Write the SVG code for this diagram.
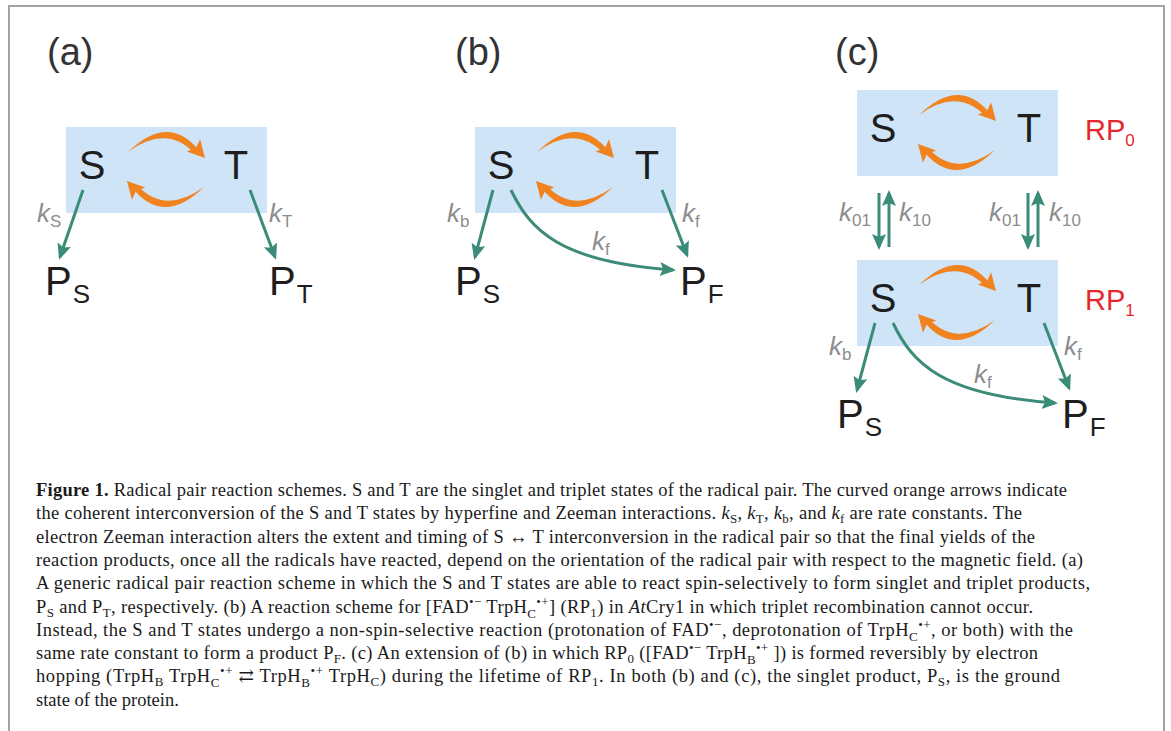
<svg xmlns="http://www.w3.org/2000/svg" width="1171" height="731" viewBox="0 0 1171 731">
<style>
.frame{fill:#fff;stroke:#a3a3a3;stroke-width:2}
.plbl{font-family:"Liberation Sans",Arial,sans-serif;font-size:38px;fill:#333}
.box{fill:#cfe5f7}
.st{font-family:"Liberation Sans",Arial,sans-serif;font-size:40px;fill:#1e1e1e;text-anchor:middle}
.p{font-family:"Liberation Sans",Arial,sans-serif;font-size:40px;fill:#1e1e1e}
.psub{font-size:26px}
.k{font-family:"Liberation Sans",Arial,sans-serif;font-size:26px;font-style:italic;fill:#8d8d8d}
.ksub{font-size:17px;font-style:normal}
.rp{font-family:"Liberation Sans",Arial,sans-serif;font-size:29px;fill:#e5282d}
.rpsub{font-size:17px}
.orn{fill:#f0831f}
.grn{fill:none;stroke:#3b8b79;stroke-width:3;marker-end:url(#ga)}
.cap{font-family:"Liberation Serif","Times New Roman","DejaVu Serif",serif;font-size:18.5px;fill:#1a1a1a}
.sb{font-size:13px}
.sp{font-size:13px}
.it{font-style:italic}
</style>
<defs>
<marker id="ga" markerUnits="userSpaceOnUse" markerWidth="18" markerHeight="16" refX="13" refY="7" orient="auto">
<path d="M0,0 L16,7 L0,14 L3,7 z" fill="#3b8b79"/>
</marker>
<g id="orn-arc">
<path class="orn" d="M62,25 Q101,-13 131,21 L128.5,26.5 Q101,-3 62,25 Z"/>
<path class="orn" d="M139,31 L120.7,24.5 L130,21 L134.1,12.3 Z"/>
</g>
<g id="orn-pair">
<use href="#orn-arc"/>
<use href="#orn-arc" transform="rotate(180 100 42.5)"/>
</g>
</defs>
<rect class="frame" x="9" y="6" width="1155" height="760"/>

<!-- panel labels -->
<g id="label-a"><text class="plbl" x="47" y="65">(a)</text></g>
<g id="label-b"><text class="plbl" x="455" y="65">(b)</text></g>
<g id="label-c"><text class="plbl" x="835" y="65">(c)</text></g>

<!-- Panel (a) -->
<g id="box-a" transform="translate(66,127)">
<rect class="box" x="0" y="0" width="201" height="86"/>
<g id="a-S"><text class="st" x="26" y="52">S</text></g>
<g id="a-T"><text class="st" x="170" y="52">T</text></g>
</g>
<g id="a-PS"><text class="p" x="45" y="295">P<tspan class="psub" dx="1" dy="8">S</tspan></text></g>
<g id="a-PT"><text class="p" x="269" y="295">P<tspan class="psub" dx="1" dy="8">T</tspan></text></g>

<!-- Panel (b) -->
<g id="box-b" transform="translate(475,127)">
<rect class="box" x="0" y="0" width="201" height="86"/>
<g id="b-S"><text class="st" x="26" y="52">S</text></g>
<g id="b-T"><text class="st" x="172" y="52">T</text></g>
</g>
<g id="b-PS"><text class="p" x="455" y="295">P<tspan class="psub" dx="1" dy="8">S</tspan></text></g>
<g id="b-PF"><text class="p" x="680" y="295">P<tspan class="psub" dx="1" dy="8">F</tspan></text></g>

<!-- Panel (c) -->
<g id="box-c0" transform="translate(857,90)">
<rect class="box" x="0" y="0" width="201" height="86"/>
<g id="c0-S"><text class="st" x="26" y="52">S</text></g>
<g id="c0-T"><text class="st" x="172" y="52">T</text></g>
</g>
<g id="rp0"><text class="rp" x="1085" y="140">RP<tspan class="rpsub" dy="6">0</tspan></text></g>
<g id="box-c1" transform="translate(857,260)">
<rect class="box" x="0" y="0" width="201" height="86"/>
<g id="c1-S"><text class="st" x="26" y="52">S</text></g>
<g id="c1-T"><text class="st" x="172" y="52">T</text></g>
</g>
<g id="rp1"><text class="rp" x="1085" y="310">RP<tspan class="rpsub" dy="6">1</tspan></text></g>
<g id="c-PS"><text class="p" x="837" y="428">P<tspan class="psub" dx="1" dy="8">S</tspan></text></g>
<g id="c-PF"><text class="p" x="1062" y="428">P<tspan class="psub" dx="1" dy="8">F</tspan></text></g>

<!-- Connectors -->
<g id="connectors">
<g transform="translate(66,127)">
<use href="#orn-pair"/>
<path class="grn" d="M17,63 L-6,130"/>
<path class="grn" d="M184,63 L209,130"/>
</g>
<g transform="translate(475,127)">
<use href="#orn-pair"/>
<path class="grn" d="M18,63 L0,130"/>
<path class="grn" d="M36,63 C55,103 85,135 198,143"/>
<path class="grn" d="M187,63 L212,128"/>
</g>
<g transform="translate(857,90)">
<use href="#orn-pair"/>
<path class="grn" d="M22,103 L22,157"/>
<path class="grn" d="M32,157 L32,103"/>
<path class="grn" d="M171,103 L171,157"/>
<path class="grn" d="M181,157 L181,103"/>
</g>
<g transform="translate(857,260)">
<use href="#orn-pair"/>
<path class="grn" d="M18,63 L0,130"/>
<path class="grn" d="M36,63 C55,103 85,135 198,143"/>
<path class="grn" d="M187,63 L212,128"/>
</g>
</g>

<!-- rate labels -->
<g id="k-labels">
<text class="k" x="37" y="222">k<tspan class="ksub" dy="5">S</tspan></text>
<text class="k" x="269" y="222">k<tspan class="ksub" dy="5">T</tspan></text>
<text class="k" x="447" y="222">k<tspan class="ksub" dy="5">b</tspan></text>
<text class="k" x="592" y="250">k<tspan class="ksub" dy="5">f</tspan></text>
<text class="k" x="682" y="222">k<tspan class="ksub" dy="5">f</tspan></text>
<text class="k" x="839" y="221">k<tspan class="ksub" dy="5">01</tspan></text>
<text class="k" x="899" y="221">k<tspan class="ksub" dy="5">10</tspan></text>
<text class="k" x="989" y="221">k<tspan class="ksub" dy="5">01</tspan></text>
<text class="k" x="1049" y="221">k<tspan class="ksub" dy="5">10</tspan></text>
<text class="k" x="829" y="355">k<tspan class="ksub" dy="5">b</tspan></text>
<text class="k" x="974" y="383">k<tspan class="ksub" dy="5">f</tspan></text>
<text class="k" x="1064" y="355">k<tspan class="ksub" dy="5">f</tspan></text>
</g>

<!-- caption -->
<g id="caption">
<text class="cap" x="36" y="496" textLength="1031"><tspan font-weight="bold">Figure 1.</tspan> Radical pair reaction schemes. S and T are the singlet and triplet states of the radical pair. The curved orange arrows indicate</text>
<text class="cap" x="36" y="519.3" textLength="986">the coherent interconversion of the S and T states by hyperfine and Zeeman interactions. <tspan class="it">k</tspan><tspan class="sb" dy="4">S</tspan><tspan dy="-4">, </tspan><tspan class="it">k</tspan><tspan class="sb" dy="4">T</tspan><tspan dy="-4">, </tspan><tspan class="it">k</tspan><tspan class="sb" dy="4">b</tspan><tspan dy="-4">, and </tspan><tspan class="it">k</tspan><tspan class="sb" dy="4">f</tspan><tspan dy="-4"> are rate constants. The</tspan></text>
<text class="cap" x="36" y="542.6" textLength="999">electron Zeeman interaction alters the extent and timing of S ↔ T interconversion in the radical pair so that the final yields of the</text>
<text class="cap" x="36" y="565.9" textLength="1047">reaction products, once all the radicals have reacted, depend on the orientation of the radical pair with respect to the magnetic field. (a)</text>
<text class="cap" x="36" y="589.2" textLength="1054">A generic radical pair reaction scheme in which the S and T states are able to react spin-selectively to form singlet and triplet products,</text>
<text class="cap" x="36" y="612.5" textLength="997">P<tspan class="sb" dy="4">S</tspan><tspan dy="-4"> and P</tspan><tspan class="sb" dy="4">T</tspan><tspan dy="-4">, respectively. (b) A reaction scheme for [FAD</tspan><tspan class="sp" dy="-7">•−</tspan><tspan dy="7"> TrpH</tspan><tspan class="sb" dy="5">C</tspan><tspan class="sp" dy="-12">•+</tspan><tspan dy="7">] (RP</tspan><tspan class="sb" dy="4">1</tspan><tspan dy="-4">) in </tspan><tspan class="it">At</tspan><tspan>Cry1 in which triplet recombination cannot occur.</tspan></text>
<text class="cap" x="36" y="635.8" textLength="1037">Instead, the S and T states undergo a non-spin-selective reaction (protonation of FAD<tspan class="sp" dy="-7">•−</tspan><tspan dy="7">, deprotonation of TrpH</tspan><tspan class="sb" dy="5">C</tspan><tspan class="sp" dy="-12">•+</tspan><tspan dy="7">, or both) with the</tspan></text>
<text class="cap" x="36" y="659.1" textLength="1002">same rate constant to form a product P<tspan class="sb" dy="4">F</tspan><tspan dy="-4">. (c) An extension of (b) in which RP</tspan><tspan class="sb" dy="4">0</tspan><tspan dy="-4"> ([FAD</tspan><tspan class="sp" dy="-7">•−</tspan><tspan dy="7"> TrpH</tspan><tspan class="sb" dy="5">B</tspan><tspan class="sp" dy="-12">•+</tspan><tspan dy="7"> ]) is formed reversibly by electron</tspan></text>
<text class="cap" x="36" y="682.4" textLength="1024">hopping (TrpH<tspan class="sb" dy="4">B</tspan><tspan dy="-4"> TrpH</tspan><tspan class="sb" dy="5">C</tspan><tspan class="sp" dy="-12">•+</tspan><tspan dy="7"> ⇄ TrpH</tspan><tspan class="sb" dy="5">B</tspan><tspan class="sp" dy="-12">•+</tspan><tspan dy="7"> TrpH</tspan><tspan class="sb" dy="4">C</tspan><tspan dy="-4">) during the lifetime of RP</tspan><tspan class="sb" dy="4">1</tspan><tspan dy="-4">. In both (b) and (c), the singlet product, P</tspan><tspan class="sb" dy="4">S</tspan><tspan dy="-4">, is the ground</tspan></text>
<text class="cap" x="36" y="705.7">state of the protein.</text>
</g>
</svg>
